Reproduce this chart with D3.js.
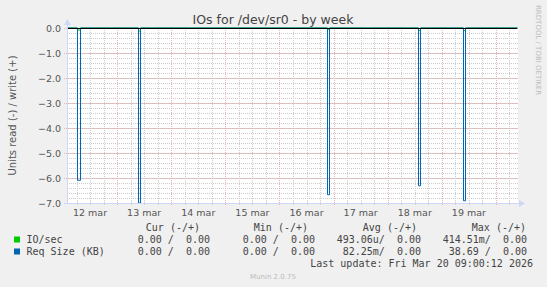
<!DOCTYPE html>
<meta charset="utf-8">
<script src="https://cdn.jsdelivr.net/npm/d3@7"></script>
<style>
body { margin: 0; background: #f0f0f0; }
svg { display: block; }
text { font-family: "DejaVu Sans", sans-serif; fill: #555; }
.mono { font-family: "DejaVu Sans Mono", monospace; font-size: 10px; white-space: pre; fill: #444; }
.minor { stroke: #cccccc; stroke-width: 1; stroke-dasharray: 1,1; }
.major { stroke: #eab4b4; stroke-width: 1; stroke-dasharray: 1,1; }
.axis { stroke: #cfd6f8; stroke-width: 1; }
</style>
<body>
<div id="chart"></div>
<script>
// time window of the graph
var start = new Date(2026, 2, 12, 1, 47),
    end = new Date(2026, 2, 20, 9, 20);

// spikes (read side, shown negative)
var spikeTimes = [
  new Date(2026, 2, 12, 6, 25),
  new Date(2026, 2, 13, 9, 10),
  new Date(2026, 2, 16, 21, 10),
  new Date(2026, 2, 18, 13, 35),
  new Date(2026, 2, 19, 9, 10)
];
var reqSizeRead = [6.09, 7.0, 6.67, 6.31, 6.91];
var ioSecRead = [0.08, 0.12, 0.05, 0.1, 0.1];

var yTicks = [0, -1, -2, -3, -4, -5, -6, -7];

// legend table
var legendNames = ["IO/sec", "Req Size (KB)"];
var legendColors = ["#00cc00", "#0066b3"];
var legendHeaders = ["Cur (-/+)", "Min (-/+)", "Avg (-/+)", "Max (-/+)"];
var legendValues = [
  ["0.00 /  0.00", "0.00 /  0.00", "493.06u/  0.00", "414.51m/  0.00"],
  ["0.00 /  0.00", "0.00 /  0.00", " 82.25m/  0.00", " 38.69 /  0.00"]
];

var width = 547, height = 287;
var svg = d3.select("#chart").append("svg")
  .attr("width", width).attr("height", height);

var x = d3.scaleTime().domain([start, end]).range([67, 517]);
var y = d3.scaleLinear().domain([-7, 0]).range([203, 28]);

// plot background
svg.append("rect")
  .attr("x", 67).attr("y", 28)
  .attr("width", 451).attr("height", 175)
  .attr("fill", "#fff");

var grid = svg.append("g");
// minor grid
grid.selectAll(".hmin").data(d3.range(-7, 0.001, 0.2))
  .enter().append("line").attr("class", "minor")
  .attr("x1", 67).attr("x2", 518)
  .attr("y1", d => Math.round(y(d)) + 0.5).attr("y2", d => Math.round(y(d)) + 0.5);
grid.selectAll(".vmin").data(d3.timeHour.every(6).range(start, end))
  .enter().append("line").attr("class", "minor")
  .attr("x1", d => Math.round(x(d)) + 0.5).attr("x2", d => Math.round(x(d)) + 0.5)
  .attr("y1", 28).attr("y2", 205);
// major grid
grid.selectAll(".hmaj").data(yTicks)
  .enter().append("line").attr("class", "major")
  .attr("x1", 64).attr("x2", 518)
  .attr("y1", d => Math.round(y(d)) + 0.5).attr("y2", d => Math.round(y(d)) + 0.5);
grid.selectAll(".vmaj").data(d3.timeDay.range(start, end))
  .enter().append("line").attr("class", "major")
  .attr("x1", d => Math.round(x(d)) + 0.5).attr("x2", d => Math.round(x(d)) + 0.5)
  .attr("y1", 28).attr("y2", 206);

// series
function series(vals, sign) {
  var pts = [{t: start, v: 0}];
  spikeTimes.forEach(function(t, i) {
    pts.push({t: t, v: sign * vals[i]});
    pts.push({t: d3.timeMinute.offset(t, 55), v: 0});
  });
  pts.push({t: end, v: 0});
  return pts;
}
var line = d3.line()
  .x(d => Math.round(x(d.t)) + 0.5)
  .y(d => y(d.v))
  .curve(d3.curveStepAfter);

svg.append("path").datum(series(ioSecRead, -1))
  .attr("d", line).attr("fill", "none")
  .attr("stroke", legendColors[0]).attr("stroke-width", 1);
svg.append("path").datum(series(reqSizeRead, -1))
  .attr("d", line).attr("fill", "none")
  .attr("stroke", legendColors[1]).attr("stroke-width", 1);

// zero line
svg.append("line")
  .attr("x1", 67).attr("x2", 517)
  .attr("y1", y(0) + 0.5).attr("y2", y(0) + 0.5)
  .attr("stroke", "#000").attr("stroke-width", 1);

// axes
svg.append("line").attr("class", "axis")
  .attr("x1", 67.5).attr("x2", 67.5).attr("y1", 24).attr("y2", 204);
svg.append("line").attr("class", "axis")
  .attr("x1", 64).attr("x2", 520).attr("y1", 203.5).attr("y2", 203.5);
svg.append("path").attr("fill", "#cfd6f8")
  .attr("d", "M64,25 L71,25 L67.5,19 Z");
svg.append("path").attr("fill", "#cfd6f8")
  .attr("d", "M519,200 L519,207 L525,203.5 Z");

// y tick labels
svg.selectAll(".ylab").data(yTicks)
  .enter().append("text")
  .attr("x", 61).attr("y", d => y(d) + 3.5)
  .attr("text-anchor", "end")
  .attr("font-size", "9.5px")
  .text(d => d3.format(".1f")(d));

// x tick labels (at noon)
var fmt = d3.timeFormat("%d %b");
svg.selectAll(".xlab").data(d3.timeDay.range(new Date(2026, 2, 12), new Date(2026, 2, 20)))
  .enter().append("text")
  .attr("x", d => x(d3.timeHour.offset(d, 12)))
  .attr("y", 216)
  .attr("text-anchor", "middle")
  .attr("font-size", "9.5px")
  .text(d => fmt(d).toLowerCase());

// title
svg.append("text")
  .attr("x", 273).attr("y", 24)
  .attr("text-anchor", "middle")
  .attr("font-size", "12.5px")
  .style("fill", "#444")
  .text("IOs for /dev/sr0 - by week");

// y label
svg.append("text")
  .attr("transform", "translate(15.5,115.5) rotate(-90)")
  .attr("text-anchor", "middle")
  .attr("font-size", "10px")
  .text("Units read (-) / write (+)");

// rrdtool credit
svg.append("text")
  .attr("transform", "translate(536,5) rotate(90)")
  .attr("font-size", "7px")
  .style("fill", "#bbb")
  .text("RRDTOOL / TOBI OETIKER");

// legend
var colEnds = [210, 315, 421, 527];
var headEnds = [200, 308, 417, 526];
svg.selectAll(".lhead").data(legendHeaders)
  .enter().append("text").attr("class", "mono")
  .attr("x", (d, i) => headEnds[i]).attr("y", 231)
  .attr("text-anchor", "end")
  .text(d => d);

legendNames.forEach(function(name, r) {
  var yy = 243 + r * 12;
  svg.append("rect")
    .attr("x", 14).attr("y", yy - 6.5)
    .attr("width", 6).attr("height", 6)
    .attr("fill", legendColors[r]);
  svg.append("text").attr("class", "mono")
    .attr("x", 26.5).attr("y", yy).text(name);
  legendValues[r].forEach(function(v, c) {
    svg.append("text").attr("class", "mono")
      .attr("x", colEnds[c]).attr("y", yy)
      .attr("text-anchor", "end").text(v);
  });
});

svg.append("text").attr("class", "mono")
  .attr("x", 533).attr("y", 267)
  .attr("text-anchor", "end")
  .text("Last update: Fri Mar 20 09:00:12 2026");

svg.append("text")
  .attr("x", 273).attr("y", 279)
  .attr("text-anchor", "middle")
  .attr("font-size", "7px")
  .style("fill", "#bbb")
  .text("Munin 2.0.75");
</script>
</body>
